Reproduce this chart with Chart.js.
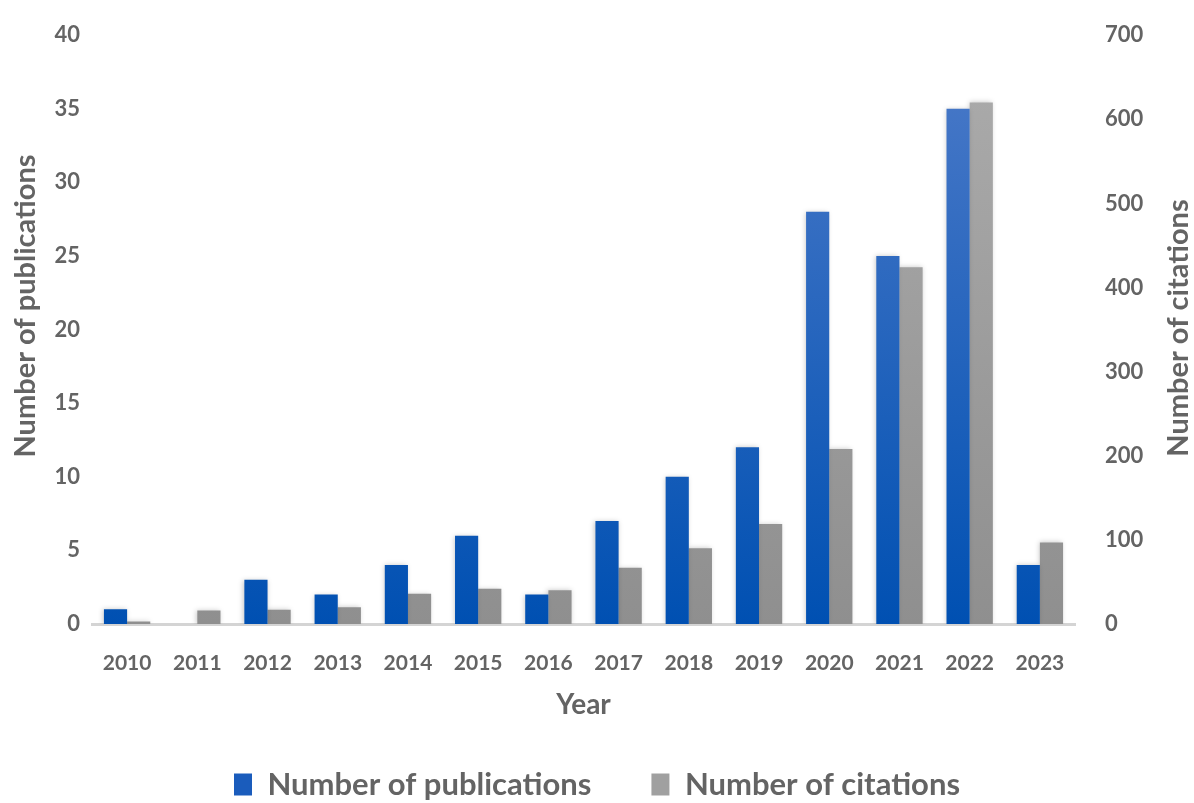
<!DOCTYPE html>
<html>
<head>
<meta charset="utf-8">
<script src="https://cdn.jsdelivr.net/npm/chart.js@4"></script>
<style>
  html, body { margin: 0; padding: 0; background: #fff; }
  #wrap { width: 1194px; height: 803px; }
</style>
</head>
<body>
<div id="wrap"><canvas id="grafico" width="1194" height="803"></canvas></div>
<script>
const years = ['2010', '2011', '2012', '2013', '2014', '2015', '2016', '2017', '2018', '2019', '2020', '2021', '2022', '2023'];
const publicaciones = [1, 0, 3, 2, 4, 6, 2, 7, 10, 12, 28, 25, 35, 4];
const citas = [3, 16, 17, 20, 36, 42, 40, 67, 90, 119, 208, 424, 620, 97];
const ticksPub = [0, 5, 10, 15, 20, 25, 30, 35, 40];
const ticksCitas = [0, 100, 200, 300, 400, 500, 600, 700];

const gris = '#646464';
const fuente = 'Lato, "Open Sans", sans-serif';
const ctx = document.getElementById('grafico');

function degradado(c, top, bottom) {
  const area = c.chart.chartArea;
  if (!area) return bottom;
  const g = c.chart.ctx.createLinearGradient(0, area.top, 0, area.bottom);
  g.addColorStop(0, top);
  g.addColorStop(1, bottom);
  return g;
}

// sombra suave detras de las barras
const sombra = {
  id: 'sombra',
  beforeDatasetsDraw(chart) {
    const c = chart.ctx;
    c.save();
    c.shadowColor = 'rgba(0, 0, 0, 0.22)';
    c.shadowBlur = 5;
    c.shadowOffsetX = -1;
    c.shadowOffsetY = 0;
  },
  afterDatasetsDraw(chart) {
    chart.ctx.restore();
  }
};

// titulos de los ejes Y, los dos leidos de abajo hacia arriba
const titulosY = {
  id: 'titulosY',
  afterDraw(chart) {
    const c = chart.ctx;
    c.save();
    c.fillStyle = gris;
    c.font = `bold 29px ${fuente}`;
    c.textAlign = 'center';
    c.textBaseline = 'middle';
    c.translate(26, 306);
    c.rotate(-Math.PI / 2);
    c.fillText('Number of publications', 0, 0);
    c.restore();

    c.save();
    c.fillStyle = gris;
    c.font = `bold 29px ${fuente}`;
    c.textAlign = 'center';
    c.textBaseline = 'middle';
    c.translate(1179, 328);
    c.rotate(-Math.PI / 2);
    c.fillText('Number of citations', 0, 0);
    c.restore();
  }
};

window.grafica = new Chart(ctx, {
  type: 'bar',
  data: {
    labels: years,
    datasets: [{
      label: 'Number of publications',
      data: publicaciones,
      yAxisID: 'y',
      backgroundColor: c => degradado(c, '#4d7bc9', '#0050b2'),
      barPercentage: 1,
      categoryPercentage: 0.66
    },
    {
      label: 'Number of citations',
      data: citas,
      yAxisID: 'y1',
      backgroundColor: c => degradado(c, '#acacac', '#8f8f8f'),
      barPercentage: 1,
      categoryPercentage: 0.66
    }]
  },
  options: {
    responsive: false,
    animation: false,
    layout: { padding: { top: 4, left: 0, right: 0, bottom: -7 } },
    plugins: {
      tooltip: { enabled: false },
      legend: {
        position: 'bottom',
        labels: {
          color: gris,
          font: { family: fuente, size: 31, weight: 'bold' },
          boxWidth: 18,
          boxHeight: 22,
          padding: 60,
          generateLabels: chart => chart.data.datasets.map((d, i) => ({
            text: d.label,
            fillStyle: i === 0 ? '#1a5cbc' : '#a0a0a0',
            strokeStyle: 'transparent',
            lineWidth: 0,
            fontColor: gris,
            datasetIndex: i
          }))
        }
      }
    },
    scales: {
      x: {
        grid: { display: false },
        border: { color: '#d4d4d4', width: 3 },
        ticks: { color: gris, font: { family: fuente, size: 21, weight: 'bold' }, padding: 19 },
        title: { display: true, text: 'Year', color: gris, font: { family: fuente, size: 28, weight: 'bold' }, padding: { top: 0, bottom: -13 } },
        afterFit: a => { a.height = 85; }
      },
      y: {
        position: 'left',
        min: 0, max: 40,
        afterBuildTicks: a => { a.ticks = ticksPub.map(v => ({ value: v })); },
        grid: { display: false },
        border: { display: false },
        ticks: { color: gris, font: { family: fuente, size: 22, weight: 'bold' }, padding: 4 },
        afterFit: a => { a.width = 92; }
      },
      y1: {
        position: 'right',
        min: 0, max: 700,
        afterBuildTicks: a => { a.ticks = ticksCitas.map(v => ({ value: v })); },
        grid: { display: false },
        border: { display: false },
        ticks: { color: gris, font: { family: fuente, size: 22, weight: 'bold' }, padding: 22 },
        afterFit: a => { a.width = 119; }
      }
    }
  },
  plugins: [sombra, titulosY]
});
</script>
</body>
</html>
